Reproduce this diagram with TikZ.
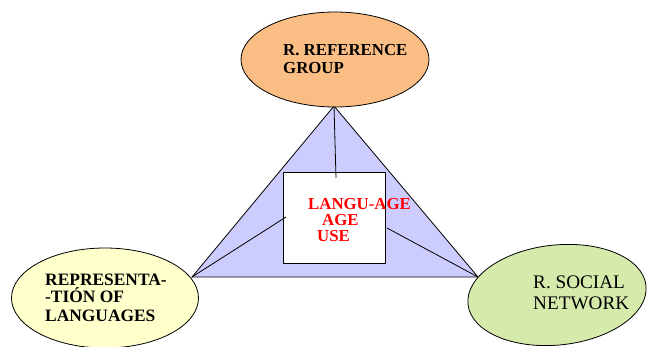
\documentclass[tikz,border=0pt]{standalone}
\usepackage{fontspec}
\setmainfont{Liberation Serif}
\usetikzlibrary{shapes.geometric}
\definecolor{orangefill}{RGB}{250,190,132}
\definecolor{yellowfill}{RGB}{255,255,204}
\definecolor{greenfill}{RGB}{214,234,172}
\definecolor{trifill}{RGB}{204,204,255}
\definecolor{redtext}{RGB}{255,0,0}
\tikzset{
  oval/.style={ellipse, draw=black, line width=0.8pt, inner sep=0pt},
  bt/.style={anchor=base west, inner sep=0pt, font=\bfseries\fontsize{#1}{#1}\selectfont},
  rt/.style={anchor=base west, inner sep=0pt, font=\fontsize{#1}{#1}\selectfont},
  link/.style={draw=black, line width=0.8pt}
}
\begin{document}
\begin{tikzpicture}[x=1pt,y=-1pt]
\useasboundingbox (0,0) rectangle (648,347);
% triangle
\coordinate (apex) at (334,106);
\coordinate (bl) at (192,277);
\coordinate (br) at (478,277);
\filldraw[fill=trifill, draw=black, line width=0.8pt] (apex) -- (bl) -- (br) -- cycle;
% ellipses
\node[oval, fill=orangefill, minimum width=188pt, minimum height=95pt] (top) at (335,59.5) {};
\node[oval, fill=yellowfill, minimum width=187pt, minimum height=100pt] (left) at (105,298) {};
\node[oval, fill=greenfill, minimum width=179pt, minimum height=100pt, rotate=6] (right) at (557,295) {};
% central box
\node[draw=black, fill=white, line width=0.8pt, minimum width=102pt, minimum height=91pt, inner sep=0pt] (box) at (334,217.5) {};
% connectors
\coordinate (vin) at (336,178);
\coordinate (lin) at (286,217);
\coordinate (rin) at (387,228);
\draw[link] (apex) -- (vin);
\draw[link] (bl) -- (lin);
\draw[link] (rin) -- (br);
% texts
\node[bt=16.8] (t1) at (283,56) {R. REFERENCE};
\node[bt=16.8] (t2) at (283,74) {GROUP};
\node[bt=17.4] (l1) at (45,286) {REPRESENTA-};
\node[bt=17.4] (l2) at (45,303) {-TIÓN OF};
\node[bt=17.4] (l3) at (45,322) {LANGUAGES};
\node[rt=19.2] (r1) at (533,289) {R. SOCIAL};
\node[rt=19.2] (r2) at (533,310) {NETWORK};
\node[bt=16.8, text=redtext] (c1) at (308,210) {LANGU-AGE};
\node[bt=16.8, text=redtext] (c2) at (322,226) {AGE};
\node[bt=16.8, text=redtext] (c3) at (317,242) {USE};
\end{tikzpicture}
\end{document}
